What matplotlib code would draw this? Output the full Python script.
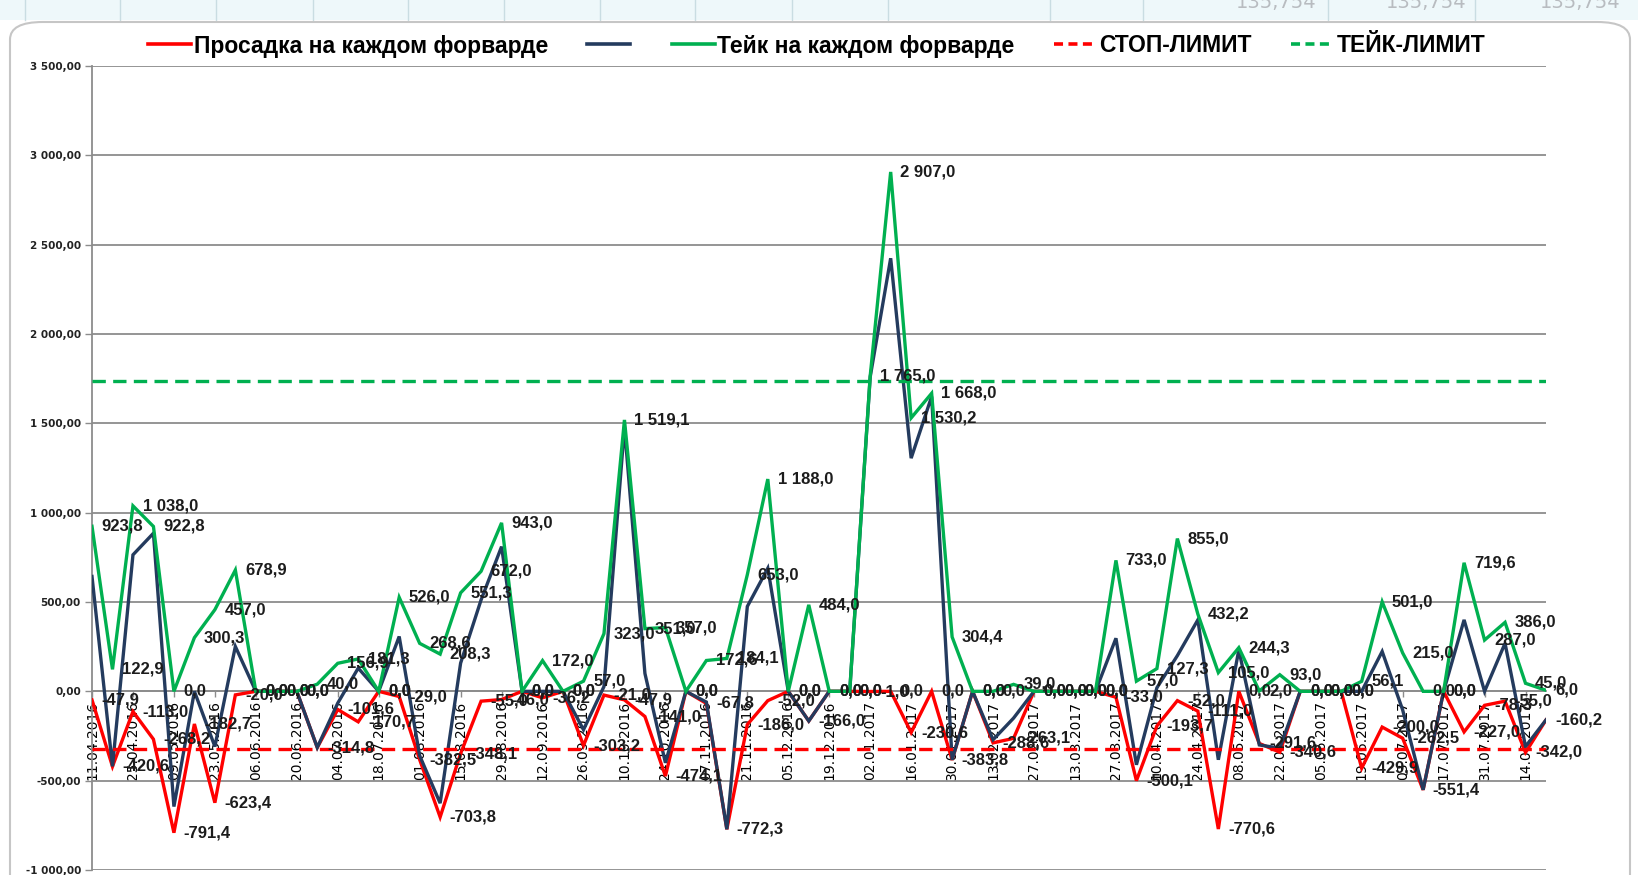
import matplotlib
matplotlib.use("Agg")
import matplotlib.pyplot as plt
from matplotlib.lines import Line2D
from matplotlib.patches import FancyBboxPatch, Rectangle
import numpy as np

# даты (подписи оси X идут через одну точку, шаг точек - неделя)
tick_dates = ["11.04.2016", "25.04.2016", "09.05.2016", "23.05.2016", "06.06.2016",
              "20.06.2016", "04.07.2016", "18.07.2016", "01.08.2016", "15.08.2016",
              "29.08.2016", "12.09.2016", "26.09.2016", "10.10.2016", "24.10.2016",
              "07.11.2016", "21.11.2016", "05.12.2016", "19.12.2016", "02.01.2017",
              "16.01.2017", "30.01.2017", "13.02.2017", "27.02.2017", "13.03.2017",
              "27.03.2017", "10.04.2017", "24.04.2017", "08.05.2017", "22.05.2017",
              "05.06.2017", "19.06.2017", "03.07.2017", "17.07.2017", "31.07.2017",
              "14.08.2017"]

# просадка на каждом форварде
drawdown = [-47.9, -420.6, -113.0, -268.2, -791.4, -182.7, -623.4, -20.0, 0.0, 0.0,
            0.0, -314.8, -101.6, -170.7, 0.0, -29.0, -382.5, -703.8, -348.1, -55.0,
            -46.0, 0.0, -36.2, 0.0, -303.2, -21.0, -47.9, -141.0, -474.1, 0.0,
            -67.8, -772.3, -186.0, -52.0, 0.0, -166.0, 0.0, 0.0, -1.0, 0.0,
            -230.6, 0.0, -383.8, 0.0, -288.6, -263.1, 0.0, 0.0, 0.0, 0.0,
            -33.0, -500.1, -193.7, -52.0, -111.0, -770.6, 0.0, -291.6, -340.6, 0.0,
            0.0, 0.0, -429.9, -200.0, -262.5, -551.4, 0.0, -227.0, -78.3, -55.0,
            -342.0, -160.2]

# результат (серия без названия)
result = [643, -420, 764, 885, -645, 0, -309, 251, 0, 0,
          0, -314, -66, 130, 0, 307, -360, -626, 158, 512,
          810, 0, 0, 0, -215, 27, 1480, 100, -400, 0,
          -60, -772, 475, 689, 0, -166, 0, 0, 1760, 2424,
          1305, 1650, -383, 0, -271, -150, 0, 0, 0, 0,
          297, -411, 20, 200, 400, -383, 232, -300, -318, 0,
          0, 0, 0, 223, -104, -551, 0, 400, 0, 269,
          -309, -160]

# тейк на каждом форварде
take = [923.8, 122.9, 1038.0, 922.8, 0.0, 300.3, 457.0, 678.9, 0.0, 0.0,
        0.0, 40.0, 156.9, 181.3, 0.0, 526.0, 268.6, 208.3, 551.3, 672.0,
        943.0, 0.0, 172.0, 0.0, 57.0, 323.0, 1519.1, 351.0, 357.0, 0.0,
        172.6, 184.1, 653.0, 1188.0, 0.0, 484.0, 0.0, 0.0, 1765.0, 2907.0,
        1530.2, 1668.0, 304.4, 0.0, 0.0, 39.0, 0.0, 0.0, 0.0, 0.0,
        733.0, 57.0, 127.3, 855.0, 432.2, 105.0, 244.3, 2.0, 93.0, 0.0,
        0.0, 0.0, 56.1, 501.0, 215.0, 0.0, 0.0, 719.6, 287.0, 386.0,
        45.0, 6.0]

stop_limit = -322.0
take_limit = 1735.0

RED = "#ff0000"
NAVY = "#243b5e"
GREEN = "#00b050"


def ru(v, nd=1):
    s = f"{v:,.{nd}f}".replace(",", " ").replace(".", ",")
    if s.startswith("-") and float(s[1:].replace(" ", "").replace(",", ".")) == 0:
        s = s[1:]
    return s


n = len(take)
x = np.arange(n)

fig = plt.figure(figsize=(16.38, 8.75), dpi=100)

# рамка диаграммы и полоска ячеек сверху
fig.patches.append(Rectangle((0, 1 - 20 / 875), 1, 20 / 875, transform=fig.transFigure,
                             facecolor="#eef8fa", edgecolor="none", zorder=-3))
for cx in [25, 120, 216, 313, 408, 504, 600, 695, 792, 888, 1050, 1143, 1328, 1475]:
    fig.add_artist(Line2D([cx / 1638, cx / 1638], [1 - 20 / 875, 1], color="#c9dde2",
                          lw=1, zorder=-2))
for cx, s in [(1276, "135,754"), (1426, "135,754"), (1580, "135,754")]:
    fig.text(cx / 1638, 1 - 2 / 875, s, ha="center", va="center", fontsize=14,
             color="#b8bcc0", zorder=-2)
fig.patches.append(FancyBboxPatch((10 / 1638, -0.05), 1620 / 1638, 1.05 - 22 / 875,
                                  boxstyle="round,pad=0,rounding_size=0.02",
                                  transform=fig.transFigure, facecolor="white",
                                  edgecolor="#c6c6c6", lw=1.5, zorder=-1))

ax = fig.add_axes([92 / 1638, 1 - 870 / 875, (1546 - 92) / 1638, (870 - 66) / 875])
ax.set_facecolor("none")
ax.set_zorder(1)

ax.plot(x, drawdown, color=RED, lw=2.4, zorder=3, solid_joinstyle="miter")
ax.plot(x, result, color=NAVY, lw=2.4, zorder=4, solid_joinstyle="miter")
ax.plot(x, take, color=GREEN, lw=2.4, zorder=5, solid_joinstyle="miter")
ax.plot(x, [stop_limit] * n, color=RED, lw=2.4, ls=(0, (4, 2.2)), zorder=6)
ax.plot(x, [take_limit] * n, color=GREEN, lw=2.4, ls=(0, (4, 2.2)), zorder=6)

lab_kw = dict(textcoords="offset points", xytext=(7, 0), ha="left", va="center",
              fontsize=12, fontweight="bold", family="Liberation Sans",
              color="#1c1c1c", zorder=10, annotation_clip=False)
for i in range(n):
    ax.annotate(ru(drawdown[i]), (x[i], drawdown[i]), **lab_kw)
    ax.annotate(ru(take[i]), (x[i], take[i]), **lab_kw)

ax.set_xlim(0, n - 1)
ax.set_ylim(-1000, 3500)
yt = np.arange(-1000, 3501, 500)
ax.set_yticks(yt)
ax.set_yticklabels([ru(v, 2) for v in yt], fontsize=7.5, fontweight="bold", color="#222222")
ax.tick_params(axis="y", length=5, width=1, color="#8c8c8c", pad=3)
ax.grid(axis="y", color="#8c8c8c", lw=1.3, zorder=1)
ax.set_axisbelow(True)

ax.set_xticks(x[::2])
ax.set_xticklabels(tick_dates, fontsize=8, fontweight="bold", color="#222222")
ax.tick_params(axis="x", length=4, width=1, color="#8c8c8c", pad=3, labelrotation=90)
ax.spines["bottom"].set_position(("data", 0))
ax.spines["bottom"].set_color("#8c8c8c")
ax.spines["bottom"].set_linewidth(1.3)
ax.spines["left"].set_color("#8c8c8c")
ax.spines["left"].set_linewidth(1.3)
ax.spines["top"].set_visible(False)
ax.spines["right"].set_visible(False)

handles = [Line2D([], [], color=RED, lw=2.6),
           Line2D([], [], color=NAVY, lw=2.6),
           Line2D([], [], color=GREEN, lw=2.6),
           Line2D([], [], color=RED, lw=2.6, ls=(0, (2.5, 1.5))),
           Line2D([], [], color=GREEN, lw=2.6, ls=(0, (2.5, 1.5)))]
labels = ["Просадка на каждом форварде", "", "Тейк на каждом форварде",
          "СТОП-ЛИМИТ", "ТЕЙК-ЛИМИТ"]
fig.legend(handles, labels, loc="center", bbox_to_anchor=(0.4985, 1 - 46 / 875),
           ncol=5, frameon=False, handlelength=1.9, handletextpad=0.1,
           columnspacing=1.7, prop={"family": "Liberation Sans", "weight": "bold",
                                    "size": 16.5})

fig.savefig("out.png", dpi=100)
